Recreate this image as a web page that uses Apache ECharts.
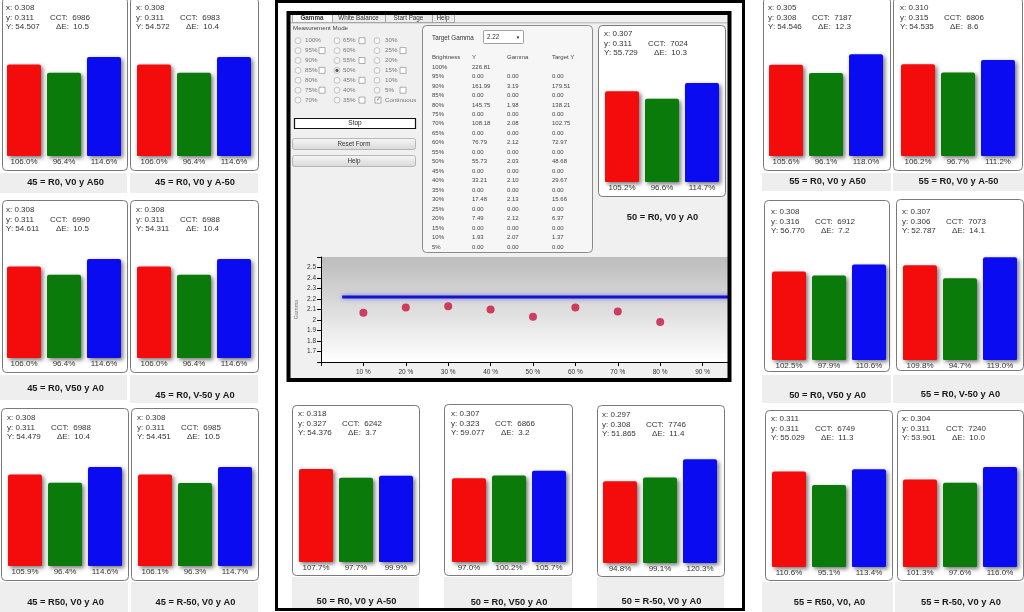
<!DOCTYPE html>
<html><head><meta charset="utf-8">
<script src="https://cdn.jsdelivr.net/npm/echarts@6/dist/echarts.min.js"></script>
<style>html,body{margin:0;padding:0;background:#fff}#c{width:1024px;height:612px}</style>
</head><body><div id="c"></div>
<script>
// ---------------- DATA ----------------
const panelTitles = [
  '45 = R0, V0 y A50', '45 = R0, V0 y A-50',
  '45 = R0, V50 y A0', '45 = R0, V-50 y A0',
  '45 = R50, V0 y A0', '45 = R-50, V0 y A0',
  '50 = R0, V0 y A0',
  '50 = R0, V0 y A-50', '50 = R0, V50 y A0', '50 = R-50, V0 y A0',
  '55 = R0, V0 y A50', '55 = R0, V0 y A-50',
  '50 = R0, V50 y A0', '55 = R0, V-50 y A0',
  '55 = R50, V0, A0', '55 = R-50, V0 y A0'
];
const chromaX = [0.308,0.308,0.308,0.308,0.308,0.308,0.307,0.318,0.307,0.297,0.305,0.310,0.308,0.307,0.311,0.304];
const chromaY = [0.311,0.311,0.311,0.311,0.311,0.311,0.311,0.327,0.323,0.308,0.308,0.315,0.316,0.306,0.311,0.311];
const lumY    = [54.507,54.572,54.611,54.311,54.479,54.451,55.729,54.376,59.077,51.865,54.546,54.535,56.770,52.787,55.029,53.901];
const cctVals = [6986,6983,6990,6988,6988,6985,7024,6242,6866,7746,7187,6806,6912,7073,6749,7240];
const deltaE  = [10.5,10.4,10.5,10.4,10.4,10.5,10.3,3.7,3.2,11.4,12.3,8.6,7.2,14.1,11.3,10.0];
const redPct   = [106.0,106.0,106.0,106.0,105.9,106.1,105.2,107.7,97.0,94.8,105.6,106.2,102.5,109.8,110.6,101.3];
const greenPct = [96.4,96.4,96.4,96.4,96.4,96.3,96.6,97.7,100.2,99.1,96.1,96.7,97.9,94.7,95.1,97.6];
const bluePct  = [114.6,114.6,114.6,114.6,114.6,114.7,114.7,99.9,105.7,120.3,118.0,111.2,110.6,119.0,113.4,116.0];

const gammaLevels   = [10,20,30,40,50,60,70,80];
const gammaMeasured = [2.07,2.12,2.13,2.10,2.03,2.12,2.08,1.98];
const targetGamma = 2.22;
const targetRange = [5, 100];

const tableBrightness = ['100%','95%','90%','85%','80%','75%','70%','65%','60%','55%','50%','45%','40%','35%','30%','25%','20%','15%','10%','5%'];
const tableY      = ['226.81','0.00','161.99','0.00','145.75','0.00','108.18','0.00','76.79','0.00','55.73','0.00','33.21','0.00','17.48','0.00','7.49','0.00','1.93','0.00'];
const tableGamma  = ['','0.00','3.19','0.00','1.98','0.00','2.08','0.00','2.12','0.00','2.03','0.00','2.10','0.00','2.13','0.00','2.12','0.00','2.07','0.00'];
const tableTarget = ['','0.00','179.51','0.00','138.21','0.00','102.75','0.00','72.97','0.00','48.68','0.00','29.67','0.00','15.66','0.00','6.37','0.00','1.37','0.00'];

const modeCols = [
  ['100%','95%','90%','85%','80%','75%','70%'],
  ['65%','60%','55%','50%','45%','40%','35%'],
  ['30%','25%','20%','15%','10%','5%','Continuous']
];
const modeChecks = [[0,1,0,1,0,1,0],[1,0,1,0,1,0,1],[0,1,0,1,0,1,0]];
const tabNames = ['Gamma','White Balance','Start Page','Help'];

// ---------------- LAYOUT ----------------
// [boxX, boxY, boxW, boxH, barBottom, barLeft, bandX, bandY, bandW, bandH, labelY]
const L = [
  [2,-3,125,173,156,7, 0,173,127,20,182],
  [130,-3,128,173,156,137, 130,173,128,20,182],
  [2,200,125,172,358,7, 0,375,127,25,388],
  [130,200,128,172,358,137, 130,375,128,28,395],
  [1,408,127,172,566,8, 0,582,128,30,602],
  [131,408,127,172,566,138, 131,582,127,30,602],
  [598,25,127,171,182,605, null,0,0,0,217],
  [292,405,127,170,562,299, 292,577,127,31,601],
  [444,404,128,171,562,452, 444,577,128,31,602],
  [597,405,127,171,563,603, 597,577,127,31,601],
  [763,-3,127,173,156,769, 762,173,129,18,181],
  [893,-3,129,173,156,901, 893,173,131,18,181],
  [764,200,125,171,360,772, 762,375,129,28,395],
  [896,199,127,171,360,903, 893,375,131,28,394],
  [765,410,127,170,567,772, 762,582,131,30,602],
  [897,410,126,170,567,903, 895,582,129,30,602]
];
const PX_PER_PCT = 0.863, Y_MAX = 130;
const FONT = '"Liberation Sans", Arial, sans-serif';
const barColors = ['#f40c0c','#0a7a0a','#0b0bf2'];
const PLOT = {left:321, top:257, width:407, height:105};

const G = [];
function R(x,y,w,h,fill,stroke,lw,r,z){
  const e = {type:'rect', shape:{x:x,y:y,width:w,height:h,r:r||0}, style:{fill:fill||'none', stroke:stroke||null, lineWidth:lw||0}, silent:true};
  if(z!=null) e.z=z;
  G.push(e); return e;
}
function T(x,y,str,size,o){
  o=o||{};
  G.push({type:'text', x:x, y:y, z:o.z!=null?o.z:5, silent:true, style:{
    text:str, font:(o.bold?'bold ':'')+size+'px '+FONT, fill:o.color||'#333',
    textAlign:o.align||'left', align:o.align||'left', textVerticalAlign:'middle', verticalAlign:'middle'}});
}
function C(x,y,r,fill,stroke){
  G.push({type:'circle', shape:{cx:x,cy:y,r:r}, style:{fill:fill,stroke:stroke||null,lineWidth:stroke?0.8:0}, silent:true, z:4});
}

// center frames
R(276.5,1.5,467,608,'none','#000',3,0,1);
R(288.5,13,441,367,'#f0f0f0',null,0,0,0);
R(PLOT.left,PLOT.top,PLOT.width,PLOT.height,
  {type:'linear',x:0,y:0,x2:0,y2:1,colorStops:[{offset:0,color:'#bcbcbc'},{offset:1,color:'#ffffff'}]},null,0,0,0);
R(288.5,13,441,367,'none','#000',4,0,10);

// tabs
R(290,22.5,438,0.8,'#9a9a9a',null,0,0,1);
const tabX=[292,332,385,432], tabW=[40,53,47,22];
tabNames.forEach((t,i)=>{
  R(tabX[i]+0.5,14.5,tabW[i],8,i===0?'#fafafa':'#ececec','#9a9a9a',0.8,0,1);
  T(tabX[i]+tabW[i]/2,18.5,t,6.3,{align:'center',bold:i===0,color:'#333'});
});
T(293,28.5,'Measurement Mode',6.2,{color:'#444'});
const colRadioX=[298,337,377], colTextX=[305,343,385], colBoxX=[322,362,403];
modeCols.forEach((col,c)=>{
  col.forEach((lab,r)=>{
    const y = 40.7 + r*9.9;
    if(lab==='Continuous'){
      R(375,y-3,6,6,'#fff','#999',0.8,0,4);
      T(376,y-0.3,'✓',5.5,{color:'#666'});
      T(colTextX[c],y,lab,6.2,{color:'#777'});
    } else {
      C(colRadioX[c],y,3,'#f6f6f6','#b5b5b5');
      if(c===1 && r===3) C(colRadioX[c],y,1.6,'#555');
      T(colTextX[c],y,lab,6.2,{color:'#777'});
      if(modeChecks[c][r]) R(colBoxX[c]-3,y-3,6,6,'#fff','#9a9a9a',0.8,0,4);
    }
  });
});
R(294.5,118.5,121,10,'#fff','#111',1.2,0,2);
T(355,123.5,'Stop',6.5,{align:'center',color:'#222'});
const btnGrad = {type:'linear',x:0,y:0,x2:0,y2:1,colorStops:[{offset:0,color:'#f7f7f7'},{offset:1,color:'#d8d8d8'}]};
R(292.5,138.5,123,11,btnGrad,'#a8a8a8',0.8,2,2);
T(354,144,'Reset Form',6.3,{align:'center',color:'#333'});
R(292.5,155.5,123,11,btnGrad,'#a8a8a8',0.8,2,2);
T(354,161,'Help',6.3,{align:'center',color:'#333'});

// table panel
R(422.5,25.5,170,227,'#f6f6f6','#8a8a8a',1,4,1);
T(432,38,'Target Gamma',6.3,{color:'#333'});
R(483.5,30.5,40,13,'#fff','#8a8a8a',0.8,1,2);
T(487,37,'2.22',6.3,{color:'#333'});
T(518,37.5,'▼',4.5,{align:'center',color:'#222'});
const tabColX=[432,472,507,552];
['Brightness','Y','Gamma','Target Y'].forEach((h,i)=>T(tabColX[i],57,h,6,{color:'#444'}));
tableBrightness.forEach((b,i)=>{
  const y = 67 + i*9.47;
  T(tabColX[0],y,b,6,{color:'#444'});
  T(tabColX[1],y,tableY[i],6,{color:'#444'});
  T(tabColX[2],y,tableGamma[i],6,{color:'#444'});
  T(tabColX[3],y,tableTarget[i],6,{color:'#444'});
});

// panels: boxes, bands, texts
L.forEach((l,i)=>{
  const [bx,by,bw,bh,bb,bl,bandX,bandY,bandW,bandH,labY]=l;
  if(bandX!==null) R(bandX,bandY,bandW,bandH,'#eeeeee',null,0,0,0);
  R(bx+0.5,by+0.5,bw,bh,'#ffffff','#7a7a7a',1,4,1);
  const ty = bb-148;
  T(bl-1,ty,'x: '+chromaX[i].toFixed(3),8,{color:'#333'});
  T(bl-1,ty+9.5,'y: '+chromaY[i].toFixed(3),8,{color:'#333'});
  T(bl-1,ty+19,'Y: '+lumY[i].toFixed(3),8,{color:'#333'});
  T(bl+43,ty+9.5,'CCT:  '+cctVals[i],8,{color:'#333'});
  T(bl+49,ty+19,'ΔE:  '+deltaE[i].toFixed(1),8,{color:'#333'});
  T(bx+bw/2+1,labY,panelTitles[i],9.3,{align:'center',bold:true,color:'#1a1a1a'});
});

// ---------------- ECHARTS ----------------
const grids=[], xAxes=[], yAxes=[], series=[];
L.forEach((l,i)=>{
  const bb=l[4], bl=l[5], h=Y_MAX*PX_PER_PCT;
  grids.push({left:bl-3, top:bb-h, width:120, height:h, outerBoundsMode:'none', containLabel:false});
  xAxes.push({gridIndex:i, type:'category', data:['R','G','B'], show:false});
  yAxes.push({gridIndex:i, type:'value', min:0, max:Y_MAX, show:false});
  series.push({
    type:'bar', xAxisIndex:i, yAxisIndex:i, barWidth:34, silent:true,
    data:[redPct[i],greenPct[i],bluePct[i]].map((v,k)=>({value:v,itemStyle:{color:barColors[k]}})),
    itemStyle:{borderRadius:[2,2,1,1], shadowBlur:4, shadowColor:'rgba(0,0,0,0.55)', shadowOffsetX:2, shadowOffsetY:2},
    label:{show:true, position:'bottom', distance:2, fontSize:8, fontFamily:'Liberation Sans', color:'#333',
      formatter:p=>p.value.toFixed(1)+'%'}
  });
});
const gi = L.length;
grids.push({left:PLOT.left, top:PLOT.top, width:PLOT.width, height:PLOT.height, outerBoundsMode:'none', containLabel:false});
xAxes.push({gridIndex:gi, type:'value', min:0, max:96, interval:10,
  axisLine:{show:true,lineStyle:{color:'#000',width:1}}, axisTick:{show:true,length:4,lineStyle:{color:'#000'}},
  splitLine:{show:false},
  axisLabel:{fontSize:6.5, color:'#333', margin:7, fontFamily:'Liberation Sans', showMaxLabel:false, hideOverlap:false,
    formatter:v=>(v>0 && Math.abs(v%10)<1e-6)? v+' %' : ''}});
yAxes.push({gridIndex:gi, type:'value', min:1.6, max:2.6, interval:0.1,
  axisLine:{show:true,lineStyle:{color:'#000',width:1}}, axisTick:{show:true,length:4,lineStyle:{color:'#000'}},
  splitLine:{show:false},
  axisLabel:{fontSize:6.5, color:'#333', margin:5, fontFamily:'Liberation Sans', hideOverlap:false,
    formatter:v=>(v<1.65||v>2.55)?'':String(Math.round(v*10)/10)},
  name:'Gamma', nameLocation:'middle', nameGap:22, nameTextStyle:{fontSize:5.5,color:'#777',fontFamily:'Liberation Sans'}});
series.push({type:'line', xAxisIndex:gi, yAxisIndex:gi, silent:true, symbol:'none', clip:true,
  data:targetRange.map(x=>[x,targetGamma]),
  lineStyle:{color:'#1414c8', width:3, shadowColor:'rgba(70,70,255,0.7)', shadowBlur:4}});
series.push({type:'scatter', xAxisIndex:gi, yAxisIndex:gi, silent:true, symbolSize:8,
  data:gammaLevels.map((l,i)=>[l,gammaMeasured[i]]),
  itemStyle:{color:'#c8143c'}});

const chart = echarts.init(document.getElementById('c'), null, {renderer:'canvas'});
chart.setOption({
  animation:false,
  backgroundColor:'#ffffff',
  grid:grids, xAxis:xAxes, yAxis:yAxes, series:series,
  graphic:{elements:G}
});
</script></body></html>
